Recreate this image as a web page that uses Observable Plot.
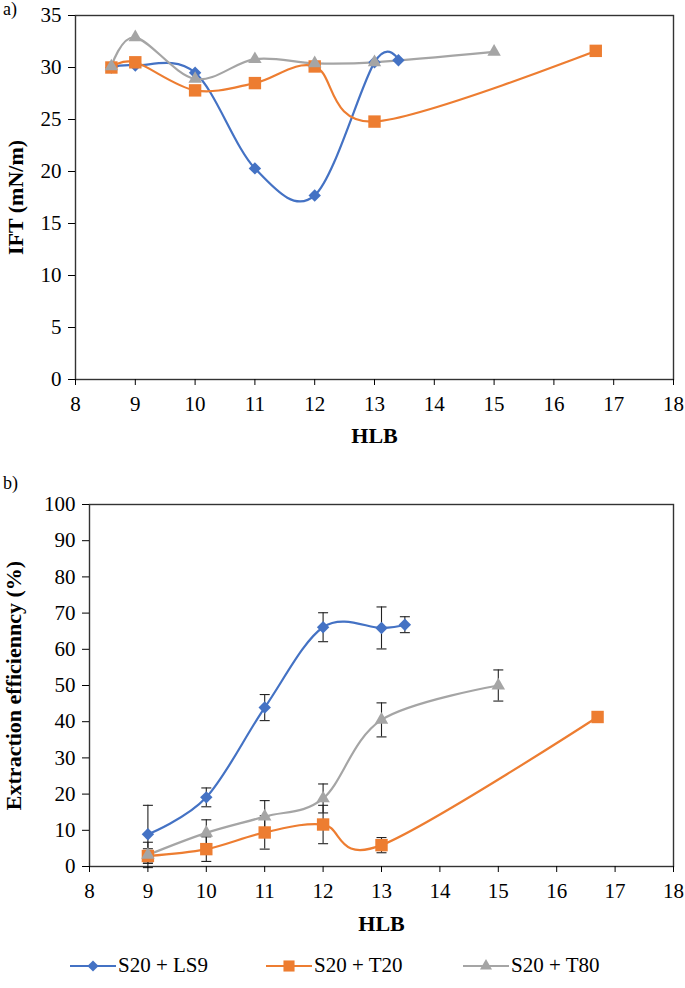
<!DOCTYPE html>
<html>
<head>
<meta charset="utf-8">
<script src="https://cdn.jsdelivr.net/npm/d3@7"></script>
<script src="https://cdn.jsdelivr.net/npm/@observablehq/plot@0.6"></script>
<style>
  html, body { margin: 0; padding: 0; background: white; }
  #wrap { position: relative; width: 685px; height: 988px; font-family: "Liberation Serif", "Times New Roman", Times, serif; color: black; }
  .abs { position: absolute; }
  .panel { position: absolute; font-size: 18px; z-index: 5; }
  .leg { position: absolute; display: flex; align-items: center; font-size: 21px; white-space: nowrap; }
  svg text { font-family: "Liberation Serif", "Times New Roman", Times, serif; }
</style>
</head>
<body>
<div id="wrap">
  <div id="top" class="abs" style="left:0;top:0"></div>
  <div id="bottom" class="abs" style="left:0;top:470px"></div>
  <div class="panel" style="left:3px;top:-1px">a)</div>
  <div class="panel" style="left:3px;top:473px">b)</div>
  <div id="legend"></div>
</div>
<script>
// ---------- Data ----------
const seriesNames = ["S20 + LS9", "S20 + T20", "S20 + T80"];
const seriesColors = ["#4472C4", "#ED7D31", "#A5A5A5"];
const seriesSymbols = ["diamond2", "square", "triangle"];
const seriesR = [5.6, 7, 5];

const xTicks = [8, 9, 10, 11, 12, 13, 14, 15, 16, 17, 18];
const iftTicks = [0, 5, 10, 15, 20, 25, 30, 35];
const eeTicks = [0, 10, 20, 30, 40, 50, 60, 70, 80, 90, 100];

// Panel a) IFT (mN/m) vs HLB
const iftHLB_LS9 = [8.6, 9, 10, 11, 12, 13, 13.4];
const ift_LS9    = [30.0, 30.2, 29.5, 20.3, 17.7, 30.5, 30.7];
const iftHLB_T20 = [8.6, 9, 10, 11, 12, 13, 16.7];
const ift_T20    = [30.0, 30.5, 27.8, 28.5, 30.1, 24.8, 31.6];
const iftHLB_T80 = [8.6, 9, 10, 11, 12, 13, 15];
const ift_T80    = [30.1, 32.9, 28.9, 30.8, 30.4, 30.5, 31.5];

// Panel b) Extraction efficiency (%) vs HLB, with error (±)
const eeHLB_LS9 = [9, 10, 11, 12, 13, 13.4];
const ee_LS9    = [8.9, 19.1, 43.9, 66.1, 65.9, 66.8];
const eeErr_LS9 = [8.0, 2.6, 3.6, 4.0, 5.8, 2.2];
const eeHLB_T20 = [9, 10, 11, 12, 13, 16.7];
const ee_T20    = [2.9, 4.8, 9.4, 11.6, 5.9, 41.3];
const eeErr_T20 = [2.0, 3.4, 4.6, 5.3, 2.1, 0];
const eeHLB_T80 = [9, 10, 11, 12, 13, 15];
const ee_T80    = [3.2, 9.3, 13.8, 18.8, 40.5, 50.0];
const eeErr_T80 = [3.5, 3.6, 4.4, 4.0, 4.7, 4.3];

// ---------- Build tables ----------
function table(xs, ys, es) {
  return xs.map((x, i) => ({x, y: ys[i], e: es ? es[i] : 0}));
}
const iftSeries = [
  table(iftHLB_LS9, ift_LS9),
  table(iftHLB_T20, ift_T20),
  table(iftHLB_T80, ift_T80)
];
const eeSeries = [
  table(eeHLB_LS9, ee_LS9, eeErr_LS9),
  table(eeHLB_T20, ee_T20, eeErr_T20),
  table(eeHLB_T80, ee_T80, eeErr_T80)
];

const capSymbol = {
  draw(ctx, size) { ctx.moveTo(-5, 0); ctx.lineTo(5, 0); }
};

const FONT = '"Liberation Serif", "Times New Roman", Times, serif';

function makeChart({series, yDomain, yTicks, yLabel, height, marginTop, marginLeft, marginBottom, errors, yLabelDx, xLabelDy}) {
  const marks = [];
  if (errors) {
    series.forEach(data => {
      const d = data.filter(p => p.e > 0);
      marks.push(Plot.ruleX(d, {x: "x", y1: p => p.y - p.e, y2: p => p.y + p.e, stroke: "#222", strokeWidth: 1.1}));
      marks.push(Plot.dot(d, {x: "x", y: p => p.y + p.e, symbol: capSymbol, stroke: "#222", strokeWidth: 1.1, fill: "none", r: 3}));
      marks.push(Plot.dot(d, {x: "x", y: p => p.y - p.e, symbol: capSymbol, stroke: "#222", strokeWidth: 1.1, fill: "none", r: 3}));
    });
  }
  series.forEach((data, i) => {
    marks.push(Plot.line(data, {x: "x", y: "y", curve: "cardinal", stroke: seriesColors[i], strokeWidth: 2.2}));
  });
  series.forEach((data, i) => {
    marks.push(Plot.dot(data, {x: "x", y: "y", symbol: seriesSymbols[i], fill: seriesColors[i], r: seriesR[i]}));
  });
  marks.push(Plot.frame({stroke: "#333", strokeWidth: 1.4}));
  marks.push(Plot.axisX({ticks: xTicks, tickSize: 6, tickPadding: 11, tickFormat: d => String(d), label: null, fontSize: 21, fontFamily: FONT}));
  marks.push(Plot.axisY({ticks: yTicks, tickSize: 7, tickPadding: 7, tickFormat: d => String(d), label: null, fontSize: 21, fontFamily: FONT}));
  marks.push(Plot.text(["HLB"], {frameAnchor: "bottom", dy: xLabelDy, text: d => d, fontWeight: "bold", fontSize: 22, fontFamily: FONT}));
  marks.push(Plot.text([yLabel], {frameAnchor: "left", textAnchor: "middle", dx: yLabelDx, rotate: -90, text: d => d, fontWeight: "bold", fontSize: 22, fontFamily: FONT}));
  return Plot.plot({
    width: 685,
    height,
    marginTop, marginLeft, marginBottom,
    marginRight: 12,
    style: {fontFamily: FONT, fontSize: "21px", color: "black", background: "transparent", overflow: "visible"},
    x: {domain: [8, 18]},
    y: {domain: yDomain},
    marks
  });
}

document.getElementById("top").appendChild(makeChart({
  series: iftSeries, yDomain: [0, 35], yTicks: iftTicks, yLabel: "IFT (mN/m)",
  height: 455, marginTop: 15, marginLeft: 75, marginBottom: 76, errors: false, yLabelDx: -60, xLabelDy: 63
}));

document.getElementById("bottom").appendChild(makeChart({
  series: eeSeries, yDomain: [0, 100], yTicks: eeTicks, yLabel: "Extraction efficienncy (%)",
  height: 470, marginTop: 34, marginLeft: 89, marginBottom: 74, errors: true, yLabelDx: -76, xLabelDy: 64
}));

// ---------- Legend ----------
const legend = document.getElementById("legend");
const legendLeft = [70, 266, 463];
seriesNames.forEach((name, i) => {
  const item = document.createElement("div");
  item.className = "leg";
  item.style.left = legendLeft[i] + "px";
  item.style.top = "953px";
  const sym = d3.symbol(d3["symbol" + {diamond2: "Diamond2", square: "Square", triangle: "Triangle"}[seriesSymbols[i]]], Math.PI * seriesR[i] * seriesR[i] * 0.8)();
  item.innerHTML = `<svg width="46" height="20" style="margin-right:2px"><line x1="0" x2="46" y1="10" y2="10" stroke="${seriesColors[i]}" stroke-width="2.2"/><path d="${sym}" transform="translate(23,10)" fill="${seriesColors[i]}"/></svg><span>${name}</span>`;
  legend.appendChild(item);
});
</script>
</body>
</html>
